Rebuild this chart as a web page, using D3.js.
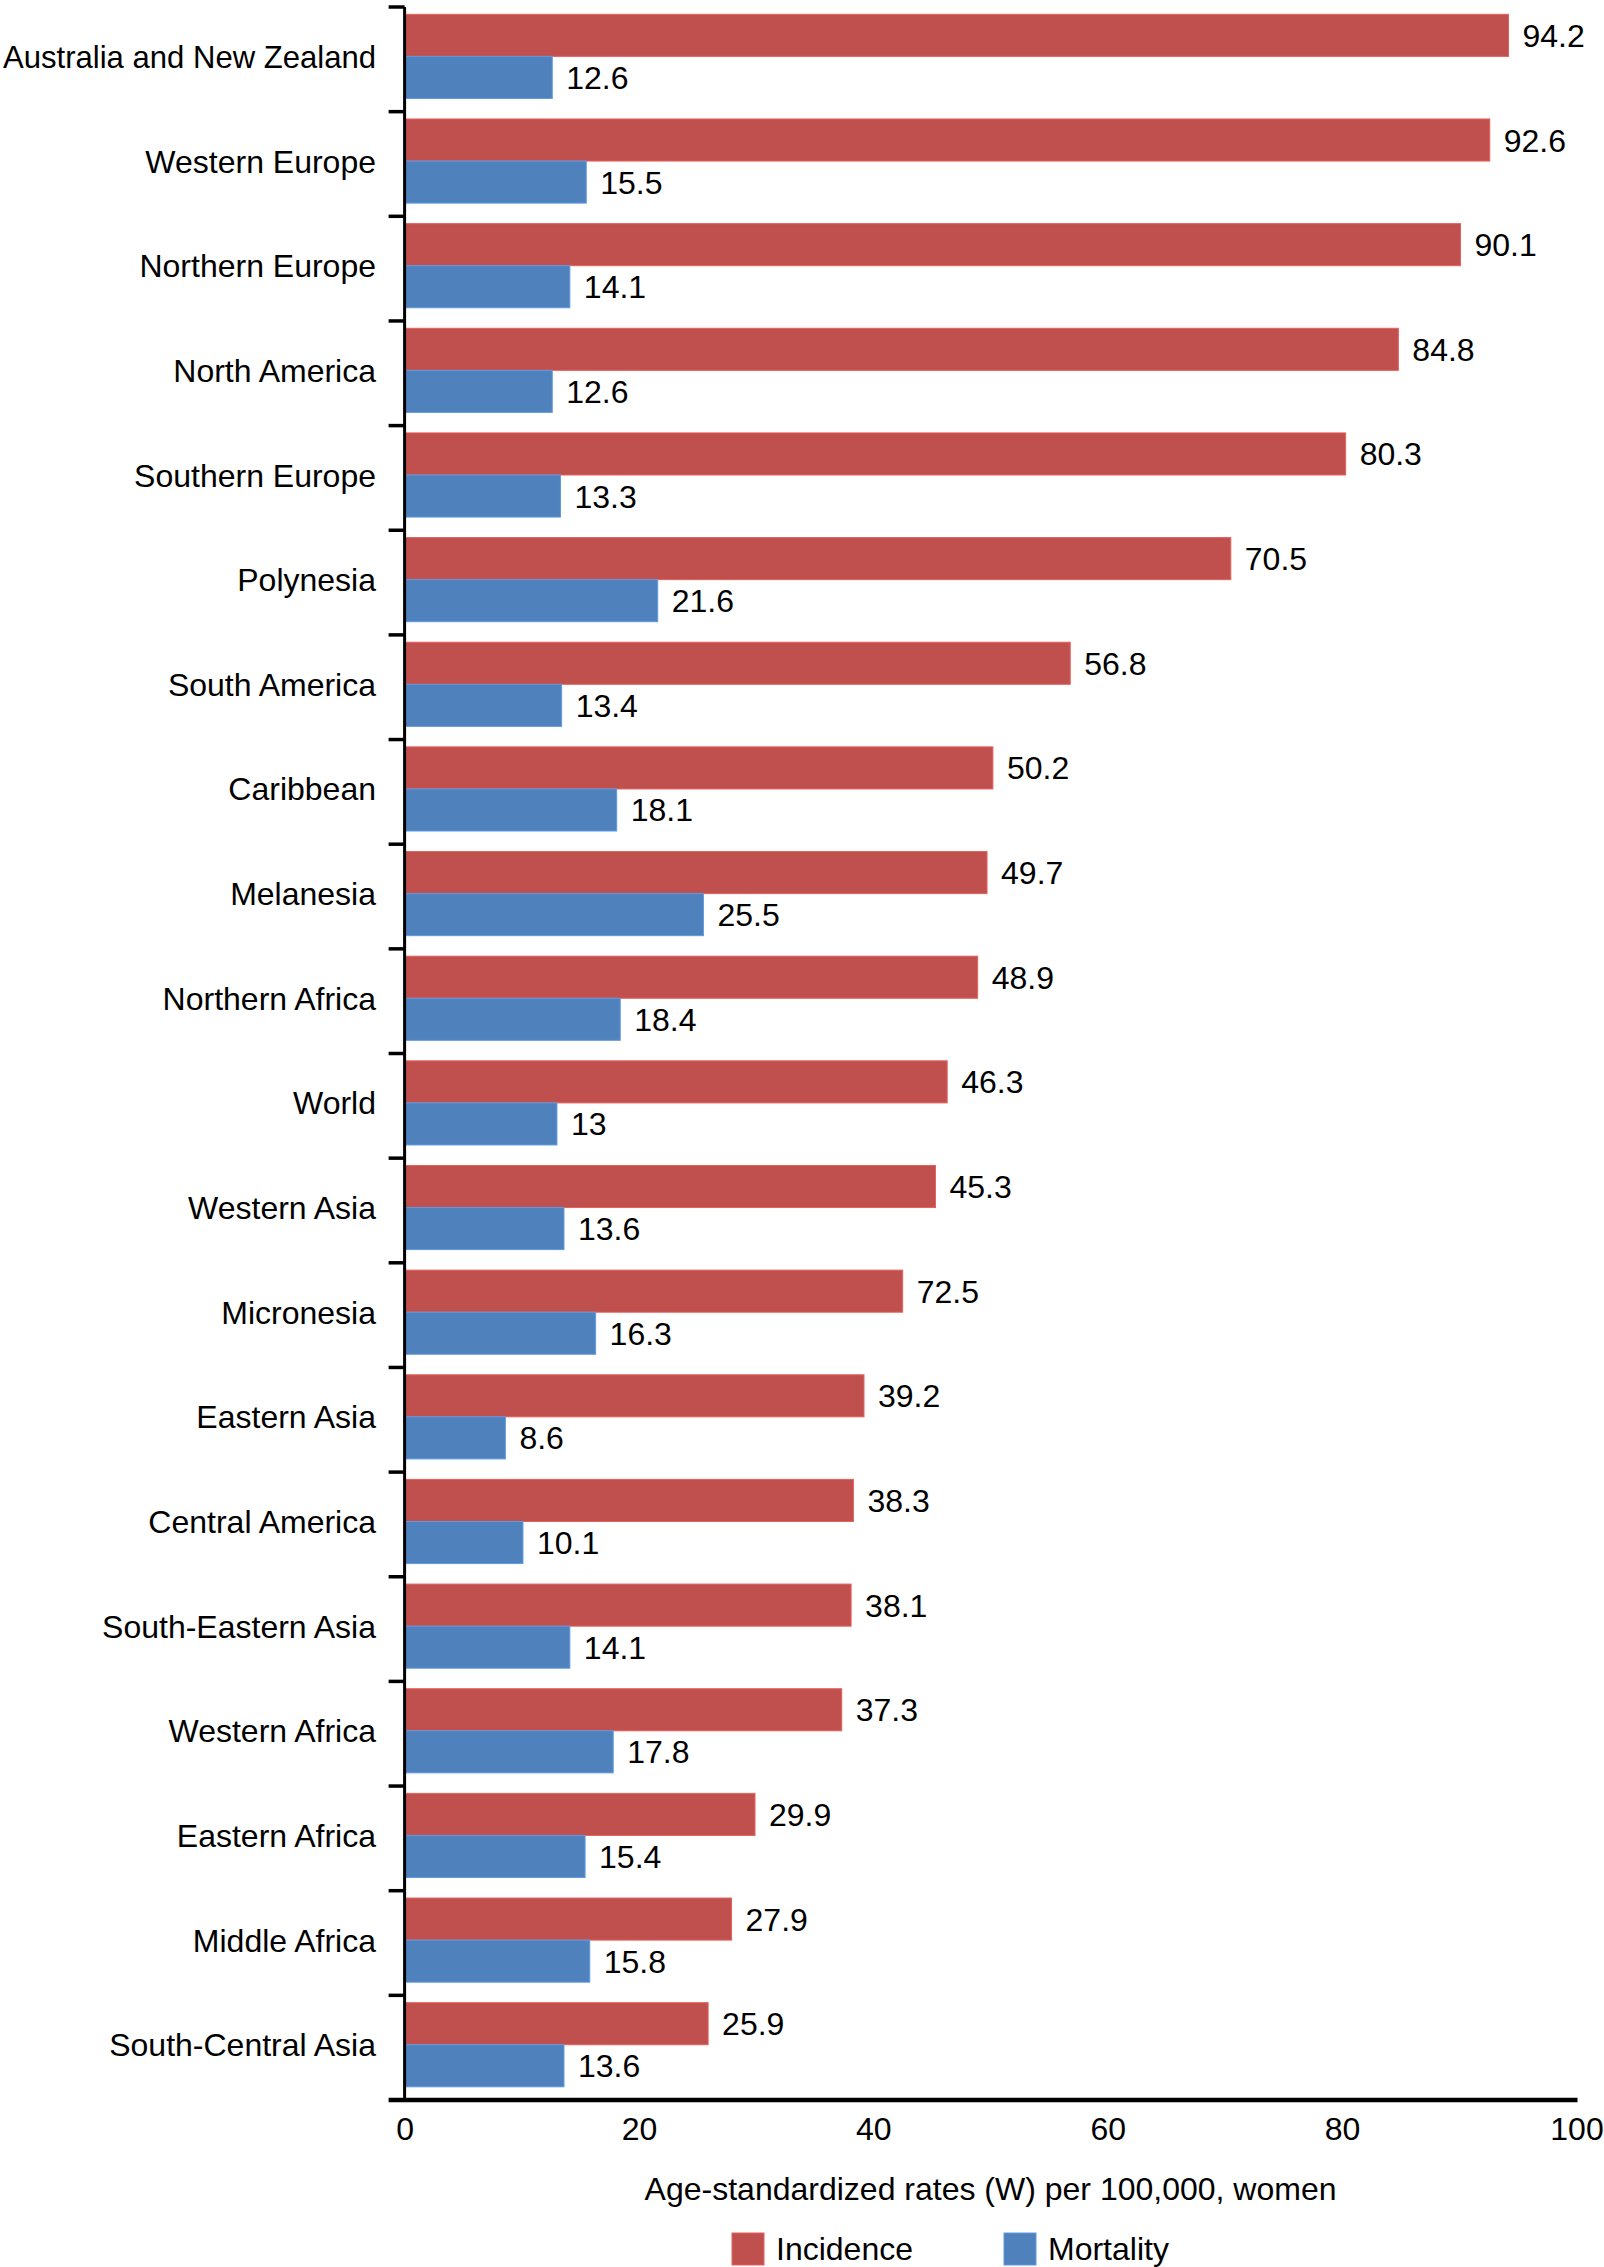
<!DOCTYPE html>
<html>
<head>
<meta charset="utf-8">
<script src="https://cdn.jsdelivr.net/npm/d3@7"></script>
<style>
    body { margin: 0; background: #fff; }
    text { font-family: "Liberation Sans", Arial, Helvetica, sans-serif; fill: #000; }
</style>
</head>
<body>
<div id="chart"></div>
<script>
// Regions, top to bottom
const regions = ["Australia and New Zealand", "Western Europe", "Northern Europe", "North America",
    "Southern Europe", "Polynesia", "South America", "Caribbean", "Melanesia", "Northern Africa",
    "World", "Western Asia", "Micronesia", "Eastern Asia", "Central America", "South-Eastern Asia",
    "Western Africa", "Eastern Africa", "Middle Africa", "South-Central Asia"]

// Bar lengths as drawn (Micronesia's bar is drawn near 42.5 although labelled 72.5)
const incidence = [94.2, 92.6, 90.1, 84.8, 80.3, 70.5, 56.8, 50.2, 49.7, 48.9,
    46.3, 45.3, 42.5, 39.2, 38.3, 38.1, 37.3, 29.9, 27.9, 25.9]
const mortality = [12.6, 15.5, 14.1, 12.6, 13.3, 21.6, 13.4, 18.1, 25.5, 18.4,
    13, 13.6, 16.3, 8.6, 10.1, 14.1, 17.8, 15.4, 15.8, 13.6]

// Printed value labels
const incidenceLabels = ["94.2", "92.6", "90.1", "84.8", "80.3", "70.5", "56.8", "50.2", "49.7", "48.9",
    "46.3", "45.3", "72.5", "39.2", "38.3", "38.1", "37.3", "29.9", "27.9", "25.9"]
const mortalityLabels = ["12.6", "15.5", "14.1", "12.6", "13.3", "21.6", "13.4", "18.1", "25.5", "18.4",
    "13", "13.6", "16.3", "8.6", "10.1", "14.1", "17.8", "15.4", "15.8", "13.6"]

const seriesNames = ["Incidence", "Mortality"]
const seriesColors = ["#C0504D", "#4F81BD"]
const xTicks = [0, 20, 40, 60, 80, 100]
const xTitle = "Age-standardized rates (W) per 100,000, women"

const width = 1604
const height = 2267
const margin = { top: 7, left: 404.6, right: 27.5, bottom: 167 }
const fontSize = 32

const svg = d3.select("#chart").append("svg")
    .attr("width", width)
    .attr("height", height)

const x = d3.scaleLinear()
    .domain([0, 100])
    .range([margin.left, width - margin.right])

const y = d3.scaleBand()
    .domain(regions)
    .range([margin.top, height - margin.bottom])

const bw = y.bandwidth()
const sub = d3.scaleBand()
    .domain(seriesNames)
    .range([bw * 0.07, bw * 0.874])

const rows = regions.map((r, i) => ({
    region: r,
    values: [
        { key: "Incidence", value: incidence[i], label: incidenceLabels[i] },
        { key: "Mortality", value: mortality[i], label: mortalityLabels[i] }
    ]
}))

const color = d3.scaleOrdinal().domain(seriesNames).range(seriesColors)

// Bars
const groups = svg.append("g").selectAll("g")
    .data(rows)
    .join("g")
    .attr("transform", d => `translate(0, ${y(d.region)})`)

groups.selectAll("rect")
    .data(d => d.values)
    .join("rect")
    .attr("x", x(0))
    .attr("y", d => sub(d.key))
    .attr("width", d => x(d.value) - x(0))
    .attr("height", sub.bandwidth())
    .attr("fill", d => color(d.key))
    .attr("stroke", d => d3.color(color(d.key)).brighter(0.5))
    .attr("stroke-width", 1)

groups.selectAll("text.value")
    .data(d => d.values)
    .join("text")
    .attr("class", "value")
    .attr("x", d => x(d.value) + 14)
    .attr("y", d => sub(d.key) + sub.bandwidth() / 2)
    .attr("dy", "0.36em")
    .attr("font-size", fontSize)
    .text(d => d.label)

// Category labels (squeeze any label that would run off the left edge)
const labelEnd = 376
groups.append("text")
    .attr("x", labelEnd)
    .attr("y", sub("Mortality"))
    .attr("dy", "0.36em")
    .attr("text-anchor", "end")
    .attr("font-size", fontSize)
    .text(d => d.region)
    .each(function () {
        const len = this.getComputedTextLength()
        if (len > labelEnd - 3) {
            d3.select(this)
                .attr("textLength", labelEnd - 3)
                .attr("lengthAdjust", "spacingAndGlyphs")
        }
    })

// Y axis: line and ticks at band boundaries
const bottomY = height - margin.bottom
svg.append("line")
    .attr("x1", x(0)).attr("x2", x(0))
    .attr("y1", margin.top).attr("y2", bottomY)
    .attr("stroke", "#000")
    .attr("stroke-width", 3)

svg.append("g").selectAll("line")
    .data(regions)
    .join("line")
    .attr("x1", x(0) - 16).attr("x2", x(0))
    .attr("y1", d => y(d)).attr("y2", d => y(d))
    .attr("stroke", "#000")
    .attr("stroke-width", 3.5)

// X axis
const xAxis = svg.append("g")
    .attr("transform", `translate(0, ${bottomY})`)
    .call(d3.axisBottom(x).tickValues(xTicks).tickSize(0).tickPadding(17))

xAxis.select(".domain").remove()
xAxis.selectAll("text")
    .attr("font-size", fontSize)
    .attr("font-family", "Liberation Sans, Arial, sans-serif")
    .attr("fill", "#000")

svg.append("line")
    .attr("x1", x(0) - 16).attr("x2", x(100) + 1)
    .attr("y1", bottomY).attr("y2", bottomY)
    .attr("stroke", "#000")
    .attr("stroke-width", 4.5)

svg.append("text")
    .attr("x", (x(0) + x(100)) / 2)
    .attr("y", 2188)
    .attr("dy", "0.36em")
    .attr("text-anchor", "middle")
    .attr("font-size", fontSize)
    .text(xTitle)

// Legend
const legendX = [732, 1004]
const legend = svg.append("g").selectAll("g")
    .data(seriesNames)
    .join("g")
    .attr("transform", (d, i) => `translate(${legendX[i]}, 2233)`)

legend.append("rect")
    .attr("width", 32)
    .attr("height", 32)
    .attr("fill", d => color(d))
    .attr("stroke", d => d3.color(color(d)).brighter(0.5))

legend.append("text")
    .attr("x", 44)
    .attr("y", 15)
    .attr("dy", "0.36em")
    .attr("font-size", fontSize)
    .text(d => d)
</script>
</body>
</html>
